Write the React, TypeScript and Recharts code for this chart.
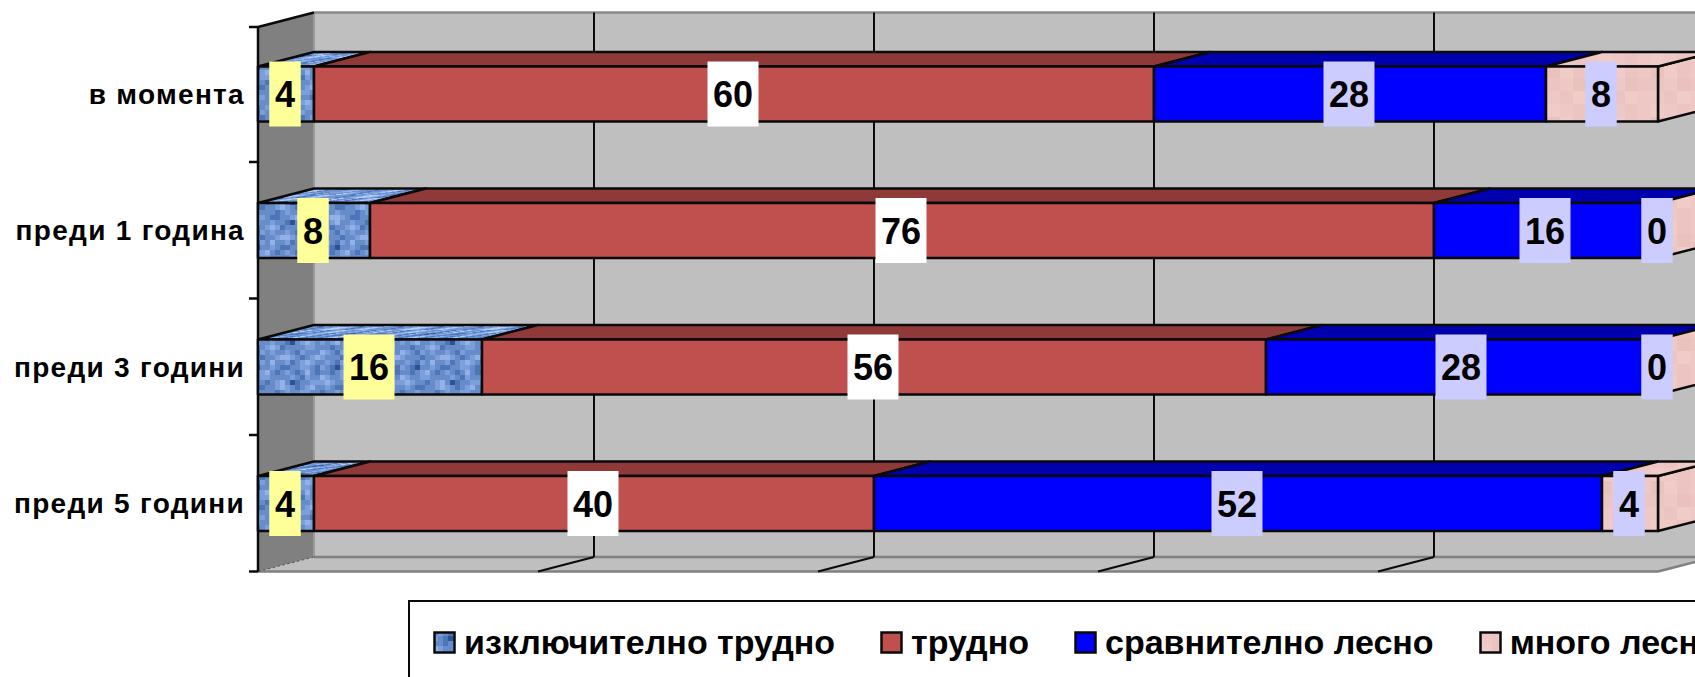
import React from "react";
import { BarChart, Bar, XAxis, YAxis, ReferenceArea, LabelList, Legend } from "recharts";

const categories = ["в момента", "преди 1 година", "преди 3 години", "преди 5 години"];
const extremelyHard = [4, 8, 16, 4];
const hard = [60, 76, 56, 40];
const fairlyEasy = [28, 16, 28, 52];
const veryEasy = [8, 0, 0, 4];
const gridTicks = [20, 40, 60, 80];

const rows = categories.map((name, i) => ({
  name,
  a: extremelyHard[i],
  b: hard[i],
  c: fairlyEasy[i],
  d: veryEasy[i],
}));

const FONT = '"Liberation Sans", Arial, sans-serif';
const DX = 56;
const DY = 14.5;
const WALL_INSET = 1.5;
const INK = "#0a0a0a";

const BLUE_TILE = [
  "bcbacbdbbcabcdcb",
  "cbaebbcbaabbccba",
  "bbabcdbabcbabdba",
  "dcbbccbbbbcbacbb",
  "cdcbbabcdbeabbcc",
  "bcbaabbcdcbabcdb",
  "abbcbbbabcbbccbb",
  "bcddcbaabbcdbbab",
  "cbcdbbcbbaebcdcb",
  "bbabbcdcabbbbccb",
  "dcbacbcbbcbacbbb",
  "cbbbabbcddcbabcd",
];
const PINK_TILE = ["abac", "cbad", "adbb", "bcaa"];
const BLUE_SHADES: Record<string, string> = { a: "#4e75b8", b: "#668cca", c: "#7c9fdb", d: "#93b1e6", e: "#2f5296" };
const BLUE_TOP: Record<string, string> = { a: "#4f78be", b: "#6e94d4", c: "#8fb0e6", d: "#b4ccf0", e: "#3a5f9c" };
const PINK_SHADES: Record<string, string> = { a: "#eec8c5", b: "#ecc5c2", c: "#f0ccc9", d: "#e9c1bd" };

function Tile({ id, tile, shades, cell, transform }: any) {
  return (
    <pattern id={id} patternUnits="userSpaceOnUse" width={tile[0].length * cell} height={tile.length * cell} patternTransform={transform}>
      {tile.map((row: string, r: number) =>
        row.split("").map((ch, c) => (
          <rect key={`${r}-${c}`} x={c * cell} y={r * cell} width={cell + 0.3} height={cell + 0.3} fill={shades[ch]} />
        ))
      )}
    </pattern>
  );
}

const SERIES = [
  { key: "a", name: "изключително трудно", front: "url(#blueTex)", top: "url(#blueTop)", labelBg: "#FFFF99" },
  { key: "b", name: "трудно", front: "#C0504D", top: "#8F3A38", labelBg: "#FFFFFF" },
  { key: "c", name: "сравнително лесно", front: "#0000FF", top: "#0000AE", labelBg: "#CCCCFF" },
  { key: "d", name: "много лесно", front: "url(#pinkTex)", top: "url(#pinkTex)", labelBg: "#CCCCFF" },
];

const makeBox = (front: string, top: string, withSide: boolean) => (p: any) => {
  const { x, y, width, height } = p;
  const stroke = { stroke: INK, strokeWidth: 2.5, strokeLinejoin: "round" as const };
  return (
    <g>
      {withSide && (
        <polygon
          points={`${x + width},${y} ${x + width + DX},${y - DY} ${x + width + DX},${y + height - DY} ${x + width},${y + height}`}
          fill={front}
          {...stroke}
        />
      )}
      {width > 0 && (
        <>
          <polygon points={`${x},${y} ${x + DX},${y - DY} ${x + width + DX},${y - DY} ${x + width},${y}`} fill={top} {...stroke} />
          <rect x={x} y={y} width={width} height={height} fill={front} {...stroke} />
        </>
      )}
    </g>
  );
};

const makeLabel = (bg: string) => (p: any) => {
  const { x, y, width, height, value } = p;
  const text = String(value);
  const w = 12 + 19.5 * text.length;
  const cx = x + width / 2 - 1;
  const cy = y + height / 2;
  return (
    <g>
      <rect x={cx - w / 2} y={cy - 32.5} width={w} height={65} fill={bg} />
      <text x={cx} y={cy + 13} textAnchor="middle" fontFamily={FONT} fontWeight="bold" fontSize={36} fill="#000">
        {text}
      </text>
    </g>
  );
};

const Walls = (p: any) => {
  const { x, width, height } = p;
  const r = x + width;
  const b = p.y + height;
  const ticks = categories.map((_, i) => p.y + (height * i) / categories.length).slice(1);
  const y = p.y + WALL_INSET;
  return (
    <g>
      <polygon points={`${x + DX},${y - DY} ${r + DX},${y - DY} ${r + DX},${b - DY} ${x + DX},${b - DY}`} fill="#BFBFBF" />
      <line x1={x + DX} y1={y - DY} x2={r + DX} y2={y - DY} stroke="#8a8a8a" strokeWidth={2.5} />
      <polygon points={`${x},${y} ${x + DX},${y - DY} ${x + DX},${b - DY} ${x},${b}`} fill="#808080" />
      <line x1={x + DX} y1={y - DY} x2={x + DX} y2={b - DY} stroke="#9a9a9a" strokeWidth={2} />
      <polygon points={`${x},${b} ${x + DX},${b - DY} ${r + DX},${b - DY} ${r},${b}`} fill="#BFBFBF" />
      <line x1={x + DX} y1={b - DY} x2={r + DX} y2={b - DY} stroke="#808080" strokeWidth={2.5} />
      <line x1={x} y1={b} x2={r} y2={b} stroke="#808080" strokeWidth={2.5} />
      <line x1={r} y1={b} x2={r + DX} y2={b - DY} stroke="#808080" strokeWidth={2.5} />
      <line x1={x} y1={b} x2={x + DX} y2={b - DY} stroke="#555" strokeWidth={1} strokeDasharray="3 2" />
      <line x1={x} y1={y} x2={x + DX} y2={y - DY} stroke={INK} strokeWidth={2.5} />
      <line x1={x} y1={y} x2={x} y2={b} stroke={INK} strokeWidth={2.5} />
      {[y, ...ticks, b].map((t) => (
        <line key={t} x1={x - 9} y1={t} x2={x} y2={t} stroke={INK} strokeWidth={2.5} />
      ))}
    </g>
  );
};

const GridLine = (p: any) => {
  const { x, y, height } = p;
  const bottom = y + height;
  return (
    <g>
      <line x1={x + DX} y1={y + WALL_INSET - DY} x2={x + DX} y2={bottom - DY} stroke={INK} strokeWidth={2} />
      <line x1={x + DX} y1={bottom - DY} x2={x} y2={bottom} stroke={INK} strokeWidth={2} />
    </g>
  );
};

const CategoryTick = (p: any) => (
  <text x={245} y={p.y + 10} textAnchor="end" fontFamily={FONT} fontWeight="bold" fontSize={28} letterSpacing={1.3} fill="#000">
    {p.payload.value}
  </text>
);

const LegendBody = () => (
  <div
    style={{
      boxSizing: "border-box",
      width: 1400,
      height: 200,
      border: "2.5px solid #0a0a0a",
      background: "#fff",
      paddingLeft: 23,
      paddingTop: 22,
      display: "flex",
      alignItems: "flex-start",
      gap: 45,
      fontFamily: FONT,
      fontWeight: "bold",
      fontSize: 34,
      lineHeight: "36px",
      whiteSpace: "nowrap",
      color: "#000",
    }}
  >
    {SERIES.map((s) => (
      <div key={s.key} style={{ display: "flex", alignItems: "center" }}>
        <svg width={23} height={23} style={{ marginRight: 8, flex: "none" }}>
          <rect x={1.5} y={1.5} width={20} height={20} fill={s.front} stroke={INK} strokeWidth={2.5} />
        </svg>
        <span>{s.name}</span>
      </div>
    ))}
  </div>
);

export default function App() {
  return (
    <div style={{ position: "fixed", left: 0, top: 0, width: 1695, height: 677, overflow: "hidden", background: "#fff" }}>
      <svg width={0} height={0} style={{ position: "absolute" }}>
        <defs>
          <Tile id="blueTex" tile={BLUE_TILE} shades={BLUE_SHADES} cell={5} />
          <Tile id="blueTop" tile={BLUE_TILE} shades={BLUE_TOP} cell={5} transform="matrix(1 0 -3.8 0.55 0 0)" />
          <Tile id="pinkTex" tile={PINK_TILE} shades={PINK_SHADES} cell={13} />
        </defs>
      </svg>
      <BarChart
        width={1695}
        height={677}
        layout="vertical"
        data={rows}
        barSize={55}
        margin={{ top: 25.5, left: 0, right: 37, bottom: 28.5 }}
      >
        <XAxis type="number" domain={[0, 100]} hide />
        <YAxis type="category" dataKey="name" width={258} tickLine={false} axisLine={false} tick={<CategoryTick />} interval={0} />
        <ReferenceArea x1={0} x2={100} shape={<Walls />} ifOverflow="visible" />
        {gridTicks.map((t) => (
          <ReferenceArea key={t} x1={t} x2={t} shape={<GridLine />} ifOverflow="visible" />
        ))}
        {SERIES.map((s, i) => (
          <Bar
            key={s.key}
            dataKey={s.key}
            name={s.name}
            stackId="all"
            fill={s.front}
            isAnimationActive={false}
            shape={makeBox(s.front, s.top, i === SERIES.length - 1)}
          >
            <LabelList dataKey={s.key} content={makeLabel(s.labelBg)} />
          </Bar>
        ))}
        <Legend
          content={<LegendBody />}
          layout="horizontal"
          align="left"
          verticalAlign="bottom"
          wrapperStyle={{ position: "absolute", left: 408, top: 600, width: 1400, height: 77, bottom: "auto" }}
        />
      </BarChart>
    </div>
  );
}
